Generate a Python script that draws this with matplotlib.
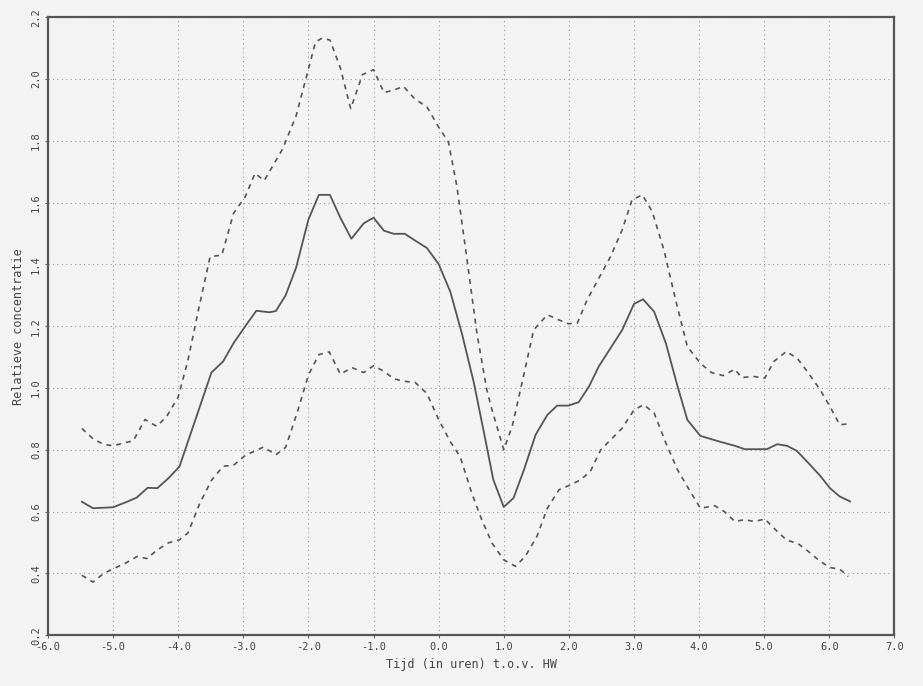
import matplotlib
matplotlib.use("Agg")
import matplotlib.pyplot as plt
import numpy as np

# Mean relative concentration (solid)
mean_x = [-5.48, -5.31, -5.0, -4.82, -4.64, -4.47, -4.32, -4.15, -3.98, -3.49, -3.31, -3.15,
          -2.97, -2.80, -2.60, -2.50, -2.35, -2.19, -2.0, -1.84, -1.67, -1.51, -1.34, -1.15,
          -1.0, -0.84, -0.69, -0.52, -0.36, -0.18, 0.0, 0.18, 0.36, 0.54, 0.69, 0.84, 1.0,
          1.15, 1.31, 1.49, 1.67, 1.82, 1.99, 2.15, 2.31, 2.46, 2.64, 2.82, 3.0, 3.14, 3.31,
          3.49, 3.67, 3.82, 4.02, 4.34, 4.55, 4.70, 5.04, 5.20, 5.35, 5.50, 5.68, 5.86, 6.01,
          6.16, 6.32]
mean_y = [0.632, 0.611, 0.614, 0.629, 0.645, 0.677, 0.676, 0.708, 0.746, 1.05, 1.086, 1.145,
          1.20, 1.25, 1.245, 1.249, 1.30, 1.389, 1.545, 1.625, 1.625, 1.551, 1.483, 1.533,
          1.551, 1.509, 1.499, 1.499, 1.477, 1.453, 1.401, 1.311, 1.174, 1.018, 0.862, 0.703,
          0.615, 0.644, 0.735, 0.849, 0.913, 0.943, 0.943, 0.954, 1.005, 1.070, 1.129, 1.188,
          1.272, 1.287, 1.247, 1.145, 1.005, 0.897, 0.845, 0.825, 0.813, 0.802, 0.802, 0.818,
          0.813, 0.797, 0.757, 0.716, 0.676, 0.649, 0.633]

# Upper bound (dashed)
upper_x = [-5.48, -5.31, -5.15, -5.0, -4.84, -4.69, -4.51, -4.33, -4.18, -4.0, -3.85, -3.69,
           -3.51, -3.33, -3.15, -2.97, -2.82, -2.68, -2.40, -2.19, -2.04, -1.89, -1.79, -1.67,
           -1.51, -1.35, -1.17, -1.0, -0.84, -0.69, -0.54, -0.36, -0.18, 0.0, 0.15, 0.28, 0.43,
           0.59, 0.74, 0.82, 1.0, 1.13, 1.28, 1.46, 1.67, 1.85, 1.99, 2.13, 2.28, 2.46, 2.64,
           2.82, 2.97, 3.13, 3.28, 3.46, 3.64, 3.82, 4.02, 4.19, 4.37, 4.55, 4.65, 4.85, 5.01,
           5.15, 5.34, 5.51, 5.68, 5.86, 6.01, 6.16, 6.30]
upper_y = [0.869, 0.836, 0.818, 0.813, 0.822, 0.829, 0.898, 0.876, 0.907, 0.971, 1.09, 1.252,
           1.425, 1.43, 1.565, 1.619, 1.695, 1.671, 1.772, 1.880, 2.0, 2.12, 2.132, 2.126,
           2.036, 1.904, 2.014, 2.03, 1.956, 1.964, 1.976, 1.934, 1.910, 1.844, 1.796, 1.653,
           1.425, 1.174, 0.994, 0.929, 0.80, 0.876, 1.016, 1.188, 1.237, 1.220, 1.208, 1.210,
           1.285, 1.355, 1.425, 1.512, 1.609, 1.625, 1.571, 1.447, 1.285, 1.134, 1.080, 1.050,
           1.040, 1.061, 1.034, 1.037, 1.032, 1.086, 1.118, 1.096, 1.048, 0.994, 0.940, 0.881,
           0.884]

# Lower bound (dashed)
lower_x = [-5.48, -5.31, -5.15, -5.0, -4.82, -4.63, -4.48, -4.33, -4.15, -3.98, -3.85, -3.67,
           -3.49, -3.31, -3.15, -2.97, -2.69, -2.50, -2.35, -2.17, -2.0, -1.84, -1.68, -1.51,
           -1.33, -1.15, -1.0, -0.84, -0.69, -0.54, -0.36, -0.18, 0.0, 0.18, 0.33, 0.51, 0.66,
           0.82, 1.0, 1.18, 1.33, 1.51, 1.67, 1.85, 2.03, 2.18, 2.33, 2.49, 2.64, 2.82, 3.0,
           3.15, 3.31, 3.49, 3.67, 3.82, 4.02, 4.24, 4.39, 4.55, 4.70, 4.85, 5.01, 5.20, 5.35,
           5.51, 5.68, 5.86, 6.01, 6.16, 6.29]
lower_y = [0.394, 0.372, 0.399, 0.415, 0.432, 0.455, 0.448, 0.475, 0.499, 0.509, 0.531, 0.626,
           0.701, 0.747, 0.750, 0.782, 0.809, 0.784, 0.808, 0.922, 1.042, 1.108, 1.117, 1.045,
           1.066, 1.050, 1.072, 1.054, 1.030, 1.022, 1.018, 0.982, 0.898, 0.826, 0.778, 0.659,
           0.575, 0.498, 0.444, 0.423, 0.455, 0.520, 0.611, 0.671, 0.687, 0.703, 0.730, 0.800,
           0.832, 0.870, 0.929, 0.946, 0.919, 0.822, 0.735, 0.681, 0.611, 0.619, 0.600, 0.568,
           0.574, 0.568, 0.576, 0.536, 0.507, 0.498, 0.471, 0.439, 0.419, 0.414, 0.390]

x_ticks = [-6.0, -5.0, -4.0, -3.0, -2.0, -1.0, 0.0, 1.0, 2.0, 3.0, 4.0, 5.0, 6.0, 7.0]
y_ticks = [0.2, 0.4, 0.6, 0.8, 1.0, 1.2, 1.4, 1.6, 1.8, 2.0, 2.2]

plt.rcParams['font.family'] = ['DejaVu Sans Mono']

fig = plt.figure(figsize=(9.23, 6.86), dpi=100, facecolor='#f3f3f3')
ax = fig.add_axes([0.052, 0.074, 0.917, 0.901])
ax.set_facecolor('#f3f3f3')

line_col = '#555555'
ax.plot(mean_x, mean_y, color=line_col, lw=1.3, solid_joinstyle='round')
ax.plot(upper_x, upper_y, color=line_col, lw=1.2, linestyle=(0, (3, 3)))
ax.plot(lower_x, lower_y, color=line_col, lw=1.2, linestyle=(0, (3, 3)))

ax.set_xlim(-6.0, 7.0)
ax.set_ylim(0.2, 2.2)
ax.set_xticks(x_ticks)
ax.set_yticks(y_ticks)
ax.set_xticklabels([f"{v:.1f}" for v in x_ticks], fontsize=7.5, color='#444444')
ax.set_yticklabels([f"{v:.1f}" for v in y_ticks], fontsize=7.5, color='#444444',
                   rotation=90, va='center')
ax.tick_params(length=2, width=0.8, color='#666666', pad=3)

ax.grid(True, color='#999999', linestyle=(0, (1, 3)), linewidth=0.8)

for side, sp in ax.spines.items():
    sp.set_color('#555555')
    sp.set_linewidth(1.6)

ax.set_xlabel("Tijd (in uren) t.o.v. HW", fontsize=8.5, color='#444444', labelpad=4)
ax.set_ylabel("Relatieve concentratie", fontsize=8.5, color='#444444', labelpad=4)

fig.savefig("out.png", dpi=100, facecolor=fig.get_facecolor())
